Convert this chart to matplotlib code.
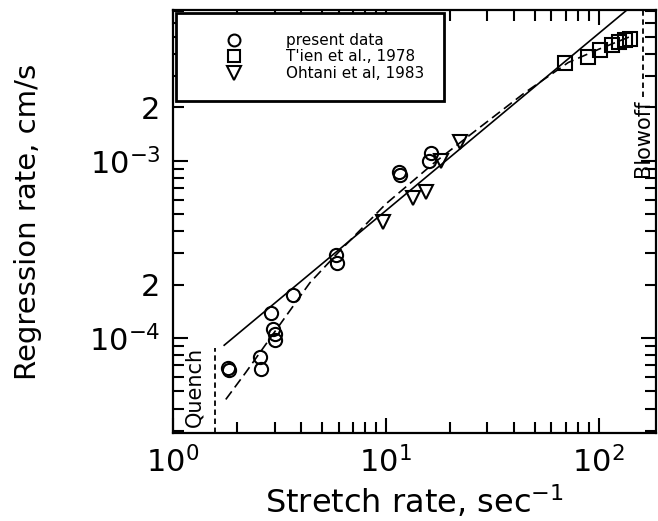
import numpy as np
import matplotlib.pyplot as plt
from matplotlib.ticker import LogLocator, FuncFormatter, NullFormatter

# present data (circles)
pres_x = [1.82, 1.84, 2.55, 2.6, 2.95, 3.0, 3.0, 2.89, 3.66, 5.83, 5.88, 11.5, 11.7, 15.9, 16.3]
pres_y = [6.8e-5, 6.6e-5, 7.8e-5, 6.7e-5, 1.12e-4, 1.05e-4, 0.98e-4, 1.39e-4, 1.75e-4,
          2.95e-4, 2.65e-4, 8.6e-4, 8.3e-4, 0.99e-3, 1.11e-3]
# T'ien et al., 1978 (squares)
tien_x = [69.8, 89.5, 102, 116, 124, 133, 141]
tien_y = [3.57e-3, 3.86e-3, 4.23e-3, 4.51e-3, 4.7e-3, 4.82e-3, 4.85e-3]
# Ohtani et al, 1983 (triangles)
oht_x = [9.7, 13.4, 15.4, 18.1, 22.4]
oht_y = [4.53e-4, 6.18e-4, 6.69e-4, 0.99e-3, 1.28e-3]

# solid line and dashed curve
sol_x = [1.74, 140]
sol_y = [9.1e-5, 7.3e-3]
dash_x = [1.77, 2.2, 3.0, 4.4, 6.0, 10, 17, 28, 45, 72, 100, 140]
dash_y = [4.5e-5, 6.4e-5, 1.08e-4, 2.05e-4, 3.05e-4, 5.7e-4, 9.8e-4, 1.56e-3,
          2.42e-3, 3.58e-3, 4.25e-3, 5.0e-3]

# limits
quench_x = 1.58
quench_top = 8.8e-5
blow_x = 162
blow_bot = 2.3e-3

fig = plt.figure(figsize=(6.58, 5.21), dpi=100)
ax = fig.add_axes([173/658, 1-433/521, (656-173)/658, (433-10)/521])
ax.set_xscale('log')
ax.set_yscale('log')
ax.set_xlim(1, 186)
ax.set_ylim(2.91e-5, 7.08e-3)

ax.plot(sol_x, sol_y, 'k-', lw=1.2)
ax.plot(dash_x, dash_y, 'k', lw=1.2, linestyle=(0, (6, 3)))

mk = dict(ls='none', mfc='none', mec='k', mew=1.5)
ax.plot(pres_x, pres_y, marker='o', ms=9.5, label='present data', **mk)
ax.plot(tien_x, tien_y, marker='s', ms=9.5, label="T'ien et al., 1978", **mk)
ax.plot(oht_x, oht_y, marker='v', ms=10.5, label='Ohtani et al, 1983', **mk)

ax.plot([quench_x, quench_x], [2.91e-5, quench_top], 'k', lw=1.3, linestyle=(0, (3, 2)))
ax.plot([blow_x, blow_x], [blow_bot, 7.08e-3], 'k', lw=1.3, linestyle=(0, (3, 2)))
ax.text(1.26, 3.15e-5, 'Quench', rotation=90, ha='center', va='bottom', fontsize=15)
ax.text(blow_x, 2.2e-3, 'Blowoff', rotation=90, ha='center', va='top', fontsize=15)

leg = ax.legend(loc='upper left', fontsize=11, fancybox=False, borderpad=1.3,
                handlelength=5.0, handletextpad=0.9, labelspacing=0.1,
                borderaxespad=0.2, markerscale=0.9)
leg.get_frame().set_edgecolor('k')
leg.get_frame().set_linewidth(2)
leg.get_frame().set_alpha(1)

def maj(v, pos):
    return r'$10^{%d}$' % int(round(np.log10(v)))

def ymin_fmt(v, pos):
    e = int(np.floor(np.log10(v) + 1e-9))
    m = v / 10**e
    return '2' if abs(m - 2) < 0.01 else ''

ax.xaxis.set_major_locator(LogLocator(10))
ax.xaxis.set_minor_locator(LogLocator(10, subs=np.arange(2, 10)))
ax.xaxis.set_major_formatter(FuncFormatter(maj))
ax.xaxis.set_minor_formatter(NullFormatter())
ax.yaxis.set_major_locator(LogLocator(10))
ax.yaxis.set_minor_locator(LogLocator(10, subs=np.arange(2, 10)))
ax.yaxis.set_major_formatter(FuncFormatter(maj))
ax.yaxis.set_minor_formatter(FuncFormatter(ymin_fmt))

ax.tick_params(which='both', direction='in', top=True, right=True, width=1.5)
ax.tick_params(which='major', length=11, labelsize=22, pad=9)
ax.tick_params(which='minor', length=8, labelsize=22, pad=9)
for s in ax.spines.values():
    s.set_linewidth(1.6)

ax.set_xlabel('Stretch rate, sec$^{-1}$', fontsize=23, labelpad=4)
ax.set_ylabel('Regression rate, cm/s', fontsize=21, labelpad=34)

plt.savefig('out.png', dpi=100)
